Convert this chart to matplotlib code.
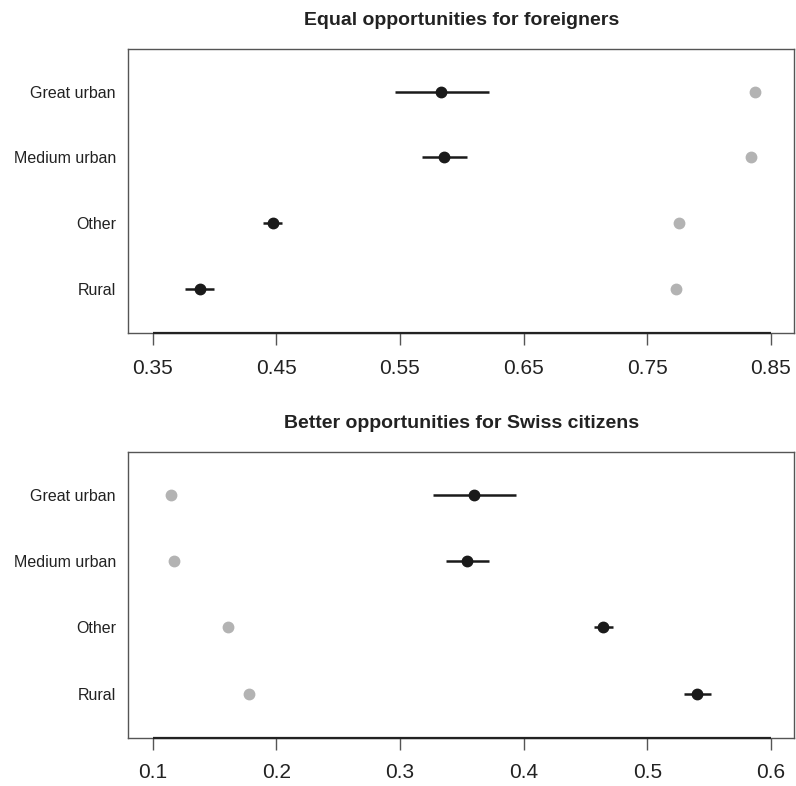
import matplotlib
matplotlib.use('Agg')
import matplotlib.pyplot as plt

plt.rcParams['font.family'] = ['Liberation Sans', 'DejaVu Sans']

# categories, top to bottom
groups = ['Great urban', 'Medium urban', 'Other', 'Rural']

# Equal opportunities for foreigners
eq_est = [0.583, 0.586, 0.447, 0.388]
eq_lo = [0.546, 0.568, 0.439, 0.376]
eq_hi = [0.622, 0.604, 0.455, 0.400]
eq_ref = [0.837, 0.834, 0.776, 0.773]
eq_ticks = [0.35, 0.45, 0.55, 0.65, 0.75, 0.85]

# Better opportunities for Swiss citizens
sw_est = [0.360, 0.354, 0.464, 0.540]
sw_lo = [0.327, 0.337, 0.457, 0.530]
sw_hi = [0.394, 0.372, 0.472, 0.552]
sw_ref = [0.115, 0.117, 0.161, 0.178]
sw_ticks = [0.1, 0.2, 0.3, 0.4, 0.5, 0.6]

ypos = [4, 3, 2, 1]

fig = plt.figure(figsize=(7.96, 7.86), dpi=100)
ax1 = fig.add_axes([0.1612, 0.5767, 0.8367, 0.3613])
ax2 = fig.add_axes([0.1612, 0.0615, 0.8367, 0.3639])


def panel(ax, est, lo, hi, ref, ticks, xlim, title, ty):
    ax.hlines(ypos, lo, hi, color='#1a1a1a', lw=1.8, zorder=2)
    ax.plot(est, ypos, 'o', color='#1a1a1a', ms=7.5, zorder=3)
    ax.plot(ref, ypos, 'o', color='#b3b3b3', ms=7.5, zorder=3)
    ax.set_xlim(*xlim)
    ax.set_ylim(0.34, 4.65)
    ax.set_xticks(ticks)
    ax.set_xticklabels([str(t) for t in ticks])
    ax.set_yticks(ypos)
    ax.set_yticklabels(groups)
    ax.tick_params(axis='x', length=8.6, width=1, color='#555555',
                   labelsize=15, pad=10, labelcolor='#222222')
    ax.tick_params(axis='y', length=0, pad=9, labelsize=11.5,
                   labelcolor='#222222')
    for s in ax.spines.values():
        s.set_color('#555555')
        s.set_linewidth(1)
    # axis line from first to last tick, as in R
    ax.hlines(ax.get_ylim()[0], ticks[0], ticks[-1], color='#222222',
              lw=1.6, clip_on=False, zorder=4)
    ax.text(0.5, ty, title, transform=ax.transAxes, ha='center',
            va='baseline', fontsize=14, fontweight='bold', color='#222222')


panel(ax1, eq_est, eq_lo, eq_hi, eq_ref, eq_ticks, (0.3303, 0.869),
      'Equal opportunities for foreigners', 1.083)
panel(ax2, sw_est, sw_lo, sw_hi, sw_ref, sw_ticks, (0.0803, 0.619),
      'Better opportunities for Swiss citizens', 1.083)

fig.savefig('out.png', dpi=100)
